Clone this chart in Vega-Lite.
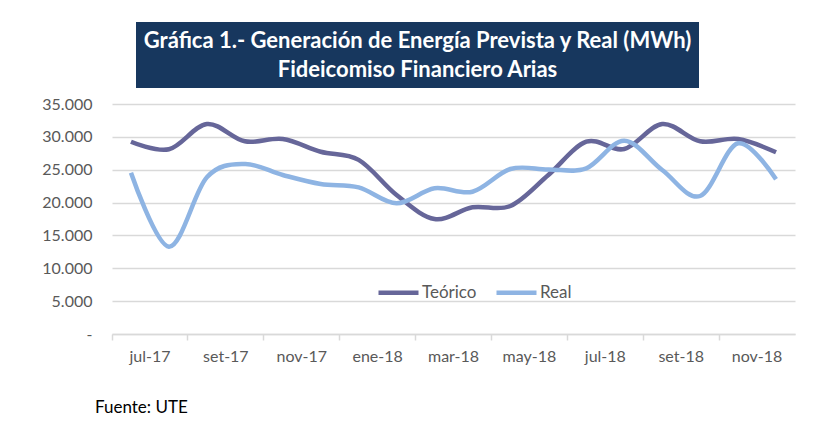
{
  "$schema": "https://vega.github.io/schema/vega-lite/v6.json",
  "background": "white",
  "padding": {"left": 41, "top": 22, "right": 10, "bottom": 5},
  "config": {"view": {"stroke": null}, "font": "Lato"},
  "spacing": 8,
  "vconcat": [
    {
      "spacing": 20,
      "hconcat": [
        {"width": 4, "height": 66, "data": {"values": []}, "mark": "point", "encoding": {}},
        {
          "width": 563,
          "height": 66,
          "view": {"fill": "#17375e", "stroke": null},
          "data": {"values": [{}]},
          "mark": {
            "type": "text",
            "text": ["Gráfica 1.- Generación de Energía Prevista y Real (MWh)", "Fideicomiso Financiero Arias"],
            "color": "white",
            "font": "Lato",
            "fontWeight": "bold",
            "fontSize": 22,
            "lineHeight": 29,
            "dy": -14
          },
          "encoding": {}
        }
      ]
    },
    {
      "width": 683,
      "height": 230,
      "data": {
        "values": [
          {"mes": "jul-17", "serie": "Teórico", "valor": 29260},
          {"mes": "ago-17", "serie": "Teórico", "valor": 28110},
          {"mes": "set-17", "serie": "Teórico", "valor": 31950},
          {"mes": "oct-17", "serie": "Teórico", "valor": 29320},
          {"mes": "nov-17", "serie": "Teórico", "valor": 29670},
          {"mes": "dic-17", "serie": "Teórico", "valor": 27740},
          {"mes": "ene-18", "serie": "Teórico", "valor": 26500},
          {"mes": "feb-18", "serie": "Teórico", "valor": 21150},
          {"mes": "mar-18", "serie": "Teórico", "valor": 17500},
          {"mes": "abr-18", "serie": "Teórico", "valor": 19280},
          {"mes": "may-18", "serie": "Teórico", "valor": 19480},
          {"mes": "jun-18", "serie": "Teórico", "valor": 24200},
          {"mes": "jul-18", "serie": "Teórico", "valor": 29260},
          {"mes": "ago-18", "serie": "Teórico", "valor": 28150},
          {"mes": "set-18", "serie": "Teórico", "valor": 31950},
          {"mes": "oct-18", "serie": "Teórico", "valor": 29320},
          {"mes": "nov-18", "serie": "Teórico", "valor": 29670},
          {"mes": "dic-18", "serie": "Teórico", "valor": 27650},
          {"mes": "jul-17", "serie": "Real", "valor": 24545},
          {"mes": "ago-17", "serie": "Real", "valor": 13285},
          {"mes": "set-17", "serie": "Real", "valor": 23845},
          {"mes": "oct-17", "serie": "Real", "valor": 25870},
          {"mes": "nov-17", "serie": "Real", "valor": 24195},
          {"mes": "dic-17", "serie": "Real", "valor": 22825},
          {"mes": "ene-18", "serie": "Real", "valor": 22320},
          {"mes": "feb-18", "serie": "Real", "valor": 19890},
          {"mes": "mar-18", "serie": "Real", "valor": 22170},
          {"mes": "abr-18", "serie": "Real", "valor": 21655},
          {"mes": "may-18", "serie": "Real", "valor": 25110},
          {"mes": "jun-18", "serie": "Real", "valor": 25050},
          {"mes": "jul-18", "serie": "Real", "valor": 25210},
          {"mes": "ago-18", "serie": "Real", "valor": 29415},
          {"mes": "set-18", "serie": "Real", "valor": 24955},
          {"mes": "oct-18", "serie": "Real", "valor": 21000},
          {"mes": "nov-18", "serie": "Real", "valor": 29020},
          {"mes": "dic-18", "serie": "Real", "valor": 23540}
        ]
      },
      "mark": {"type": "line", "interpolate": "cardinal", "strokeWidth": 4.5},
      "encoding": {
        "x": {
          "field": "mes",
          "type": "ordinal",
          "sort": null,
          "bandPosition": 0.5,
          "scale": {"type": "band", "paddingInner": 0, "paddingOuter": 0},
          "axis": {
            "title": null,
            "values": ["jul-17", "set-17", "nov-17", "ene-18", "mar-18", "may-18", "jul-18", "set-18", "nov-18"],
            "bandPosition": 0,
            "labelOffset": 19,
            "labelAngle": 0,
            "labelFontSize": 16,
            "labelColor": "#595959",
            "labelPadding": 8,
            "tickColor": "#d9d9d9",
            "tickSize": 6,
            "tickWidth": 1.5,
            "domainColor": "#d9d9d9",
            "domainWidth": 1.5,
            "grid": false
          }
        },
        "y": {
          "field": "valor",
          "type": "quantitative",
          "scale": {"domain": [0, 35000]},
          "axis": {
            "title": null,
            "values": [0, 5000, 10000, 15000, 20000, 25000, 30000, 35000],
            "labelExpr": "datum.value == 0 ? '-' : replace(format(datum.value, ','), ',', '.')",
            "domain": false,
            "ticks": false,
            "labelFontSize": 16,
            "labelColor": "#595959",
            "labelPadding": 20,
            "gridColor": "#d9d9d9",
            "gridWidth": 1.5
          }
        },
        "color": {
          "field": "serie",
          "type": "nominal",
          "scale": {"domain": ["Teórico", "Real"], "range": ["#666699", "#8eb4e3"]},
          "legend": {
            "title": null,
            "orient": "none",
            "legendX": 264,
            "legendY": 248,
            "direction": "horizontal",
            "symbolType": "stroke",
            "symbolSize": 1600,
            "symbolStrokeWidth": 4.5,
            "labelFontSize": 17,
            "labelColor": "#595959",
            "labelOffset": 1,
            "columnPadding": 10
          }
        }
      },
      "title": {
        "text": "Fuente:  UTE",
        "orient": "bottom",
        "anchor": "start",
        "frame": "group",
        "dx": -17,
        "offset": 36,
        "fontSize": 17,
        "fontWeight": "normal",
        "color": "#000000",
        "font": "Lato"
      }
    }
  ]
}
